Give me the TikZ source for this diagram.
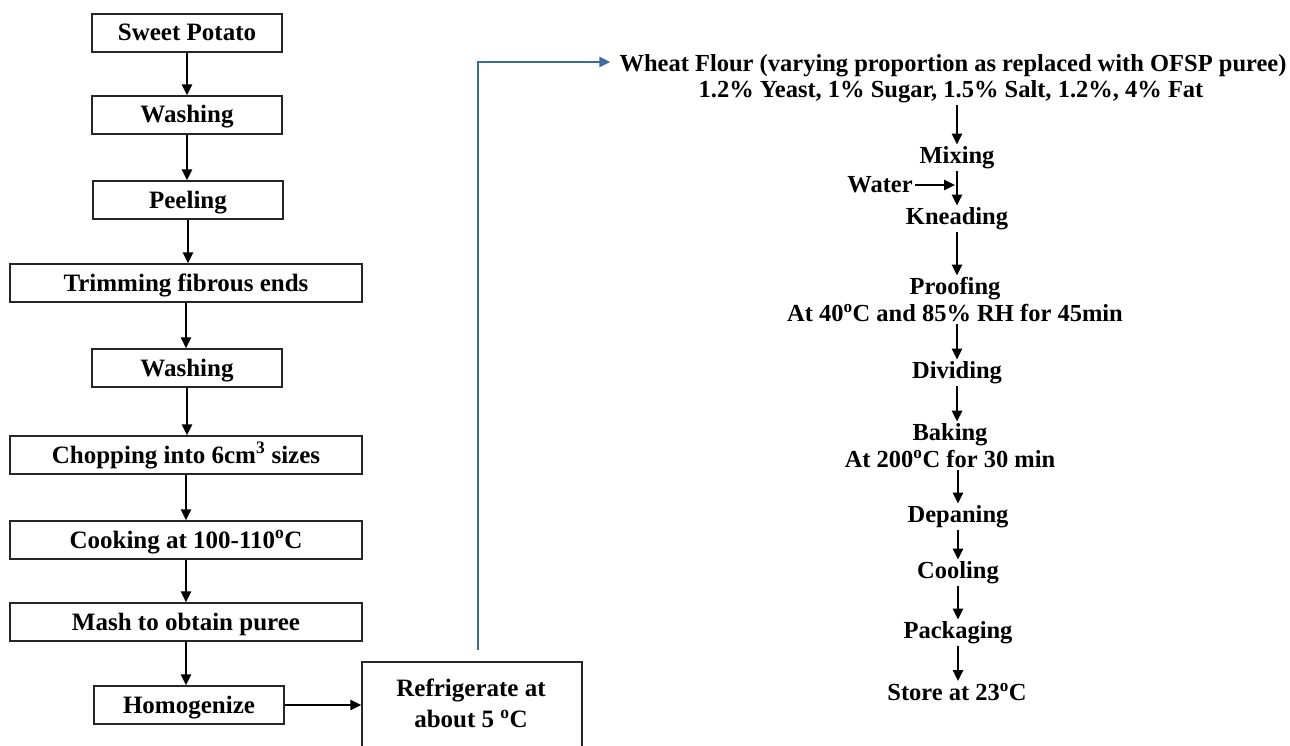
\documentclass[tikz,border=0pt]{standalone}
\usepackage{fontspec}
\setmainfont{Liberation Serif}
\usetikzlibrary{arrows.meta}

\definecolor{feedblue}{RGB}{64,106,158}
\newcommand{\dg}{\textsuperscript{o}}

\tikzset{
  txt/.style={font=\fontsize{24.5}{27}\selectfont\bfseries, align=center, inner sep=2pt},
  stepbox/.style={font=\fontsize{25}{30}\selectfont\bfseries, draw=black!85, line width=1.4pt,
    minimum height=38pt, inner sep=0pt, text height=16pt, text depth=0pt},
  narrow/.style={stepbox, minimum width=190pt},
  wide/.style={stepbox, minimum width=352pt},
  arr/.style={-{Triangle[length=11pt,width=10pt]}, line width=2.6pt},
  feed/.style={-{Triangle[length=11pt,width=10pt]}, line width=2.8pt, feedblue}
}

\begin{document}
\begin{tikzpicture}[x=1pt, y=-1pt]
    \useasboundingbox[fill=white] (0,0) rectangle (1290,746);

    % puree preparation
    \node[narrow] (potato) at (187,33) {Sweet Potato};
    \node[narrow] (wash1) at (187,115) {Washing};
    \node[narrow] (peel) at (188,200) {Peeling};
    \node[wide] (trim) at (186,283) {Trimming fibrous ends};
    \node[narrow] (wash2) at (187,368) {Washing};
    \node[wide] (chop) at (186,455) {Chopping into 6cm\textsuperscript{3} sizes};
    \node[wide] (cook) at (186,540) {Cooking at 100-110\dg C};
    \node[wide] (mash) at (186,622) {Mash to obtain puree};
    \node[narrow] (homog) at (189,705) {Homogenize};
    \node[draw=black!85, line width=1.4pt, minimum width=220pt, minimum height=88pt] (fridge) at (472,706) {};
    \node[txt, font=\fontsize{25}{31}\selectfont\bfseries] at (471,703) {Refrigerate at\\about 5 \dg C};

    \draw[arr] (potato.south) -- (wash1.north);
    \draw[arr] (wash1.south) -- (wash1.south |- peel.north);
    \draw[arr] (peel.south) -- (peel.south |- trim.north);
    \draw[arr] (trim.south) -- (trim.south |- wash2.north);
    \draw[arr] (wash2.south) -- (wash2.south |- chop.north);
    \draw[arr] (chop.south) -- (cook.north);
    \draw[arr] (cook.south) -- (mash.north);
    \draw[arr] (mash.south) -- (mash.south |- homog.north);
    \draw[arr] (homog.east) -- (homog.east -| fridge.west);

    % bread making
    \node[txt] (flour) at (953,66) {Wheat Flour (varying proportion as replaced with OFSP puree)};
    \node[txt] (ingred) at (951,92) {1.2\% Yeast, 1\% Sugar, 1.5\% Salt, 1.2\%, 4\% Fat};
    \node[txt] (mix) at (957,158) {Mixing};
    \node[txt] (knead) at (957,219) {Kneading};
    \node[txt] (water) at (880,185) {Water};
    \node[txt] (proof) at (955,300) {Proofing\\At 40\dg C and 85\% RH for 45min};
    \node[txt] (divide) at (957,373) {Dividing};
    \node[txt] (bake) at (950,446) {Baking\\At 200\dg C for 30 min};
    \node[txt] (depan) at (958,517) {Depaning};
    \node[txt] (cool) at (958,573) {Cooling};
    \node[txt] (pack) at (958,633) {Packaging};
    \node[txt] (store) at (957,692) {Store at 23\dg C};

    \coordinate (rise) at (478,650);
    \draw[feed, shorten >=7pt] (rise) |- ([yshift=4pt]flour.west);

    \draw[arr] (ingred.south -| mix.north) -- (mix.north);
    \draw[arr] (mix.south) -- (knead.north);
    \draw[arr, shorten >=2pt] (water.east) -- (water.east -| mix.south);
    \draw[arr] (knead.south) -- (knead.south |- proof.north);
    \draw[arr] (proof.south -| divide.north) -- (divide.north);
    \draw[arr] (divide.south) -- (divide.south |- bake.north);
    \draw[arr] (bake.south -| depan.north) -- (depan.north);
    \draw[arr] (depan.south) -- (cool.north);
    \draw[arr] (cool.south) -- (pack.north);
    \draw[arr] (pack.south) -- (pack.south |- store.north);
\end{tikzpicture}
\end{document}
